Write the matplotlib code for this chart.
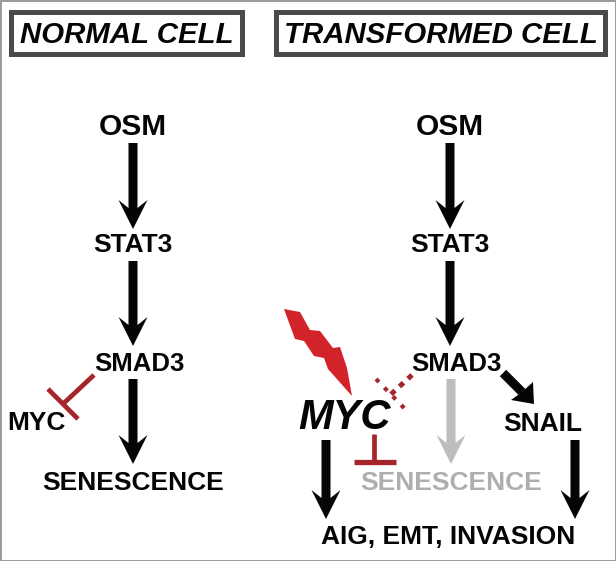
import matplotlib
matplotlib.use("Agg")
import matplotlib.pyplot as plt
from matplotlib.patches import Polygon, Rectangle
import numpy as np

plt.rcParams['font.family'] = ['Liberation Sans', 'DejaVu Sans']

BLACK = "#050505"
RED = "#a6242b"
BOLT = "#d2232a"
GRAY = "#bdbdbd"
TEXT_GRAY = "#aeaeae"

headers = ["NORMAL CELL", "TRANSFORMED CELL"]
left_nodes = ["OSM", "STAT3", "SMAD3", "MYC", "SENESCENCE"]
right_nodes = ["OSM", "STAT3", "SMAD3", "SNAIL", "AIG, EMT, INVASION"]
right_grey = "SENESCENCE"
right_myc = "MYC"

fig = plt.figure(figsize=(6.16, 5.61), dpi=100)
ax = fig.add_axes([0, 0, 1, 1])
ax.set_xlim(0, 616)
ax.set_ylim(561, 0)
ax.axis("off")


def arrow(x0, y0, x1, y1, color=BLACK, shaft=9, head_w=29, head_l=29, notch=8):
    # block arrow with a swept back head
    p0 = np.array([x0, y0], float)
    p1 = np.array([x1, y1], float)
    d = (p1 - p0) / np.linalg.norm(p1 - p0)
    n = np.array([-d[1], d[0]])
    neck = p1 - d * (head_l - notch)
    back = p1 - d * head_l
    pts = [p0 + n * shaft / 2, neck + n * shaft / 2, back + n * head_w / 2, p1,
           back - n * head_w / 2, neck - n * shaft / 2, p0 - n * shaft / 2]
    ax.add_patch(Polygon(pts, closed=True, fc=color, ec="none"))


def label(x, y, s, size=19, color=BLACK, italic=False):
    ax.text(x, y, s, fontsize=size, color=color, fontweight="bold",
            fontstyle="italic" if italic else "normal", ha="center",
            va="center_baseline")


# outer frame
ax.add_patch(Rectangle((0.5, 0.5), 615, 560, fc="white", ec="#9a9a9a", lw=1.4))

# header boxes
ax.add_patch(Rectangle((10.5, 12), 231, 42, fc="white", ec="#4a4a4a", lw=3.6))
ax.add_patch(Rectangle((275.5, 12), 329, 42, fc="white", ec="#4a4a4a", lw=3.6))
label(126.5, 32, headers[0], size=21.2, italic=True)
label(440.5, 32, headers[1], size=21.2, italic=True)

# normal cell
label(133, 124, left_nodes[0], size=21.5)
label(133, 242, left_nodes[1])
label(139, 361, left_nodes[2], size=18.5)
label(36, 420, left_nodes[3])
label(133, 480, left_nodes[4])
arrow(133, 143, 133, 229)
arrow(133, 261, 133, 346)
arrow(133, 379, 133, 464)
ax.plot([94, 64], [375, 403], color=RED, lw=3.4, solid_capstyle="butt")
ax.plot([48, 78], [389, 419], color=RED, lw=3.4, solid_capstyle="butt")

# transformed cell
label(450, 124, right_nodes[0], size=21.5)
label(450, 242, right_nodes[1])
label(456, 361, right_nodes[2], size=18.5)
label(543, 421, right_nodes[3])
label(448, 534, right_nodes[4])
label(451, 480, right_grey, color=TEXT_GRAY)
label(344, 413, right_myc, size=30, italic=True)
arrow(450, 143, 450, 229)
arrow(450, 261, 450, 346)
arrow(451, 379, 451, 464, color=GRAY)
arrow(326, 440, 326, 519)
arrow(575, 440, 575, 519)

# black diagonal arrow with square corner head
ax.plot([503, 526], [373, 396], color=BLACK, lw=6.5, solid_capstyle="butt")
ax.add_patch(Polygon([(533, 382), (534, 404), (511, 400), (522, 392)], closed=True,
                     fc=BLACK, ec="none"))

# dashed inhibition on MYC
ax.plot([412, 388], [375, 397], color=RED, lw=3.6, ls=(0, (1.1, 1.2)))
ax.plot([376, 406], [379, 410], color=RED, lw=3.0, ls=(0, (1.0, 1.9)))

# solid inhibition under MYC
ax.plot([374, 374], [434, 462], color=RED, lw=3.4, solid_capstyle="butt")
ax.plot([354, 396], [462, 462], color=RED, lw=3.8, solid_capstyle="butt")

# lightning bolt
ax.add_patch(Polygon([(284, 309), (300, 312), (310, 330), (320, 331), (333, 348),
                      (340, 347), (347, 368), (352, 396), (328, 369), (324, 358),
                      (314, 356), (304, 341), (295, 339)], closed=True, fc=BOLT, ec="none"))

fig.savefig("out.png", dpi=100)
